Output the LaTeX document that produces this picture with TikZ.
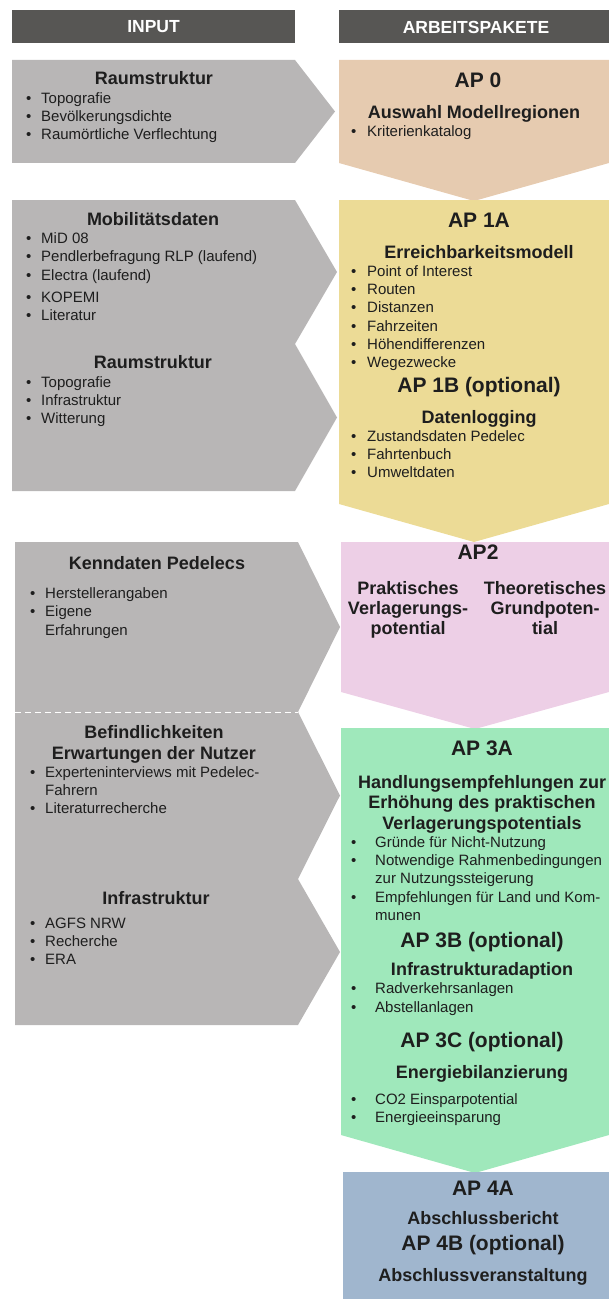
\documentclass[tikz,border=0pt]{standalone}
\usepackage{fontspec}
\setmainfont{Liberation Sans}
\usetikzlibrary{positioning}
\definecolor{hdrgray}{HTML}{575654}
\definecolor{ingray}{HTML}{B8B6B6}
\definecolor{apzero}{HTML}{E6CBB0}
\definecolor{apone}{HTML}{ECDB96}
\definecolor{aptwo}{HTML}{EDCFE6}
\definecolor{apthree}{HTML}{9FE8BB}
\definecolor{apfour}{HTML}{A0B6CE}
\definecolor{ink}{HTML}{1E1E1E}
\tikzset{
  hdr/.style={fill=hdrgray},
  hdrtxt/.style={font=\fontsize{17.5}{19}\selectfont\bfseries,text=white,inner sep=0},
  ttl/.style={font=\fontsize{18}{20}\selectfont\bfseries,text=ink,anchor=base,yshift=-6pt,inner sep=0},
  apttl/.style={font=\fontsize{21}{23}\selectfont\bfseries,text=ink,anchor=base,yshift=-7.5pt,inner sep=0},
  bul/.style={font=\fontsize{15}{17}\selectfont,text=ink,anchor=base west,yshift=-5pt,inner sep=0},
  sep/.style={white,line width=1pt,dash pattern=on 6pt off 4pt},
}
\newcommand{\bu}[1][15pt]{\llap{\makebox[#1][l]{•}}}
% input chevron: left, right, tip x, top, bottom
\newcommand{\inchev}[5]{
  \fill[ingray] (#1,#4) -- (#2,#4) -- (#3,{(#4+#5)/2}) -- (#2,#5) -- (#1,#5) -- cycle;}
% work package box: colour, left, right, top, bottom, tip y
\newcommand{\apbox}[6]{
  \fill[#1] (#2,#4) -- (#3,#4) -- (#3,#5) -- ({(#2+#3)/2},#6) -- (#2,#5) -- cycle;}
\begin{document}
\begin{tikzpicture}[x=1pt,y=-1pt]
\useasboundingbox (0,0) rectangle (609,1300);
% headers
\fill[hdr] (12,10) rectangle (295,43);
\fill[hdr] (339,10) rectangle (609,43);
\node[hdrtxt] (hin) at (153.5,27) {INPUT};
\node[hdrtxt] (hap) at (476,27) {ARBEITSPAKETE};
% input chevrons
\inchev{12}{295}{335}{60}{163}
\inchev{12}{295}{337}{200}{344}
\inchev{12}{295}{337}{344}{491}
\inchev{15}{298}{340}{542}{712}
\inchev{15}{298}{340}{712}{879}
\inchev{15}{298}{340}{879}{1025}
\draw[sep] (15,712) -- (298,712);
% work packages
\apbox{apzero}{339}{609}{60}{163}{201}
\apbox{apone}{339}{609}{200}{504}{542}
\apbox{aptwo}{341}{609}{542}{692}{729}
\apbox{apthree}{341}{609}{728}{1135}{1173}
\fill[apfour] (343,1172) rectangle (609,1299);
% input texts
\node[ttl] (r1t) at (154,79) {Raumstruktur};
\foreach \yy/\tx [count=\k] in {99/Topografie,117/Bevölkerungsdichte,135/Raumörtliche Verflechtung}
  \node[bul] (r1b\k) at (41,\yy) {\bu\tx};
\node[ttl] (mdt) at (153,219) {Mobilitätsdaten};
\foreach \yy/\tx [count=\k] in {238/MiD 08,256/{Pendlerbefragung RLP (laufend)},275/{Electra (laufend)},297/KOPEMI,315/Literatur}
  \node[bul] (mdb\k) at (41,\yy) {\bu\tx};
\node[ttl] (r2t) at (153,362) {Raumstruktur};
\foreach \yy/\tx [count=\k] in {382/Topografie,400/Infrastruktur,418/Witterung}
  \node[bul] (r2b\k) at (41,\yy) {\bu\tx};
\node[ttl] (kpt) at (157,563) {Kenndaten Pedelecs};
\node[bul] (kpb1) at (45,593) {\bu Herstellerangaben};
\node[bul] (kpb2) at (45,611) {\bu Eigene};
\node[bul] (kpc2) at (45,630) {Erfahrungen};
\node[ttl] (bft1) at (154,732) {Befindlichkeiten};
\node[ttl] (bft2) at (154,753) {Erwartungen der Nutzer};
\node[bul] (bfb1) at (45,772) {\bu Experteninterviews mit Pedelec-};
\node[bul] (bfc1) at (45,790) {Fahrern};
\node[bul] (bfb2) at (45,808) {\bu Literaturrecherche};
\node[ttl] (ift) at (156,898) {Infrastruktur};
\foreach \yy/\tx [count=\k] in {923/AGFS NRW,941/Recherche,959/ERA}
  \node[bul] (ifb\k) at (45,\yy) {\bu\tx};
% AP 0
\node[apttl] (a0t) at (478,80) {AP 0};
\node[ttl] (a0s) at (474,113) {Auswahl Modellregionen};
\node[bul] (a0b1) at (367,132) {\bu[16pt]Kriterienkatalog};
% AP 1
\node[apttl] (a1t) at (479,220) {AP 1A};
\node[ttl] (a1s) at (479,252) {Erreichbarkeitsmodell};
\foreach \yy/\tx [count=\k] in {271/Point of Interest,289/Routen,307/Distanzen,326/Fahrzeiten,344/Höhendifferenzen,362/Wegezwecke}
  \node[bul] (a1b\k) at (367,\yy) {\bu[16pt]\tx};
\node[apttl] (a1u) at (479,385) {AP 1B (optional)};
\node[ttl] (a1v) at (479,417) {Datenlogging};
\foreach \yy/\tx [count=\k] in {436/Zustandsdaten Pedelec,454/Fahrtenbuch,472/Umweltdaten}
  \node[bul] (a1d\k) at (367,\yy) {\bu[16pt]\tx};
% AP 2
\node[apttl] (a2t) at (478,552) {AP2};
\foreach \yy/\tleft/\tright [count=\k] in {588/Praktisches/Theoretisches,608/Verlagerungs-/Grundpoten-,628/potential/tial}{
  \node[ttl] (a2l\k) at (408,\yy) {\tleft};
  \node[ttl] (a2r\k) at (545,\yy) {\tright};}
% AP 3
\node[apttl] (a3t) at (482,748) {AP 3A};
\node[ttl] (a3s1) at (482,782) {Handlungsempfehlungen zur};
\node[ttl] (a3s2) at (482,802) {Erhöhung des praktischen};
\node[ttl] (a3s3) at (482,823) {Verlagerungspotentials};
\node[bul] (a3b1) at (375,842) {\bu[24pt]Gründe für Nicht-Nutzung};
\node[bul] (a3b2) at (375,860) {\bu[24pt]Notwendige Rahmenbedingungen};
\node[bul] (a3c2) at (375,878) {zur Nutzungssteigerung};
\node[bul] (a3b3) at (375,897) {\bu[24pt]Empfehlungen für Land und Kom-};
\node[bul] (a3c3) at (375,915) {munen};
\node[apttl] (a3u) at (482,940) {AP 3B (optional)};
\node[ttl] (a3v) at (482,969) {Infrastrukturadaption};
\foreach \yy/\tx [count=\k] in {988/Radverkehrsanlagen,1007/Abstellanlagen}
  \node[bul] (a3d\k) at (375,\yy) {\bu[24pt]\tx};
\node[apttl] (a3w) at (482,1040) {AP 3C (optional)};
\node[ttl] (a3x) at (482,1072) {Energiebilanzierung};
\foreach \yy/\tx [count=\k] in {1099/CO2 Einsparpotential,1117/Energieeinsparung}
  \node[bul] (a3e\k) at (375,\yy) {\bu[24pt]\tx};
% AP 4
\node[apttl] (a4t) at (483,1188) {AP 4A};
\node[ttl] (a4s) at (483,1218) {Abschlussbericht};
\node[apttl] (a4u) at (483,1243) {AP 4B (optional)};
\node[ttl] (a4v) at (483,1275) {Abschlussveranstaltung};
\end{tikzpicture}
\end{document}
